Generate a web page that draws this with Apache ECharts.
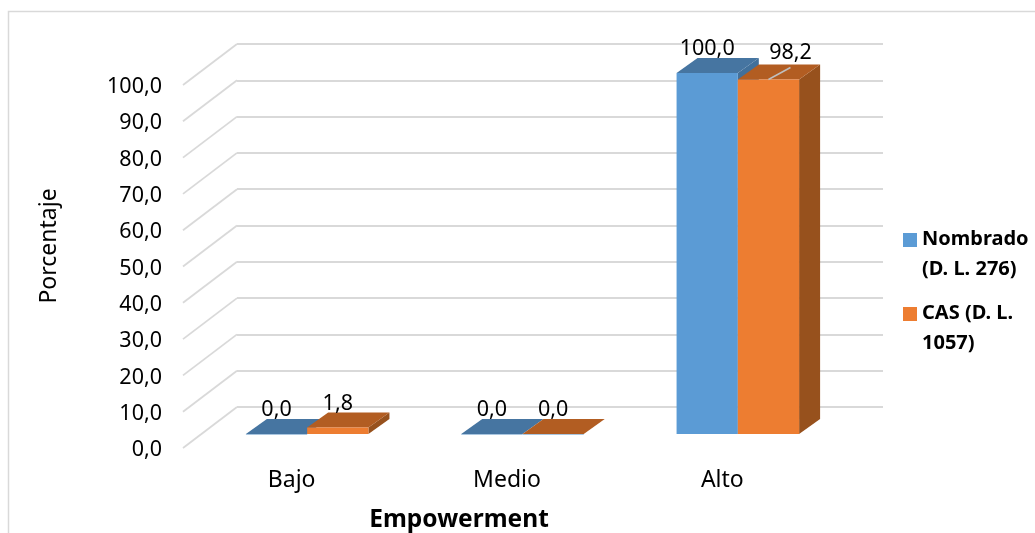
<!DOCTYPE html>
<html>
<head>
<meta charset="utf-8">
<style>html,body{margin:0;padding:0;background:#fff}#chart{width:1035px;height:533px}</style>
<script src="https://cdn.jsdelivr.net/npm/echarts@6/dist/echarts.min.js"></script>
</head>
<body>
<div id="chart"></div>
<script>
// Empowerment levels by contract type, percentages
const categories = ['Bajo', 'Medio', 'Alto'];
const nombrado = [0.0, 0.0, 100.0];
const cas = [1.8, 0.0, 98.2];
const yTicks = [0, 10, 20, 30, 40, 50, 60, 70, 80, 90, 100];
const seriesNames = ['Nombrado\n(D. L. 276)', 'CAS (D. L.\n1057)'];

const FONT = '"Noto Sans", Carlito, Calibri, sans-serif';
const TEXT = '#000000';
const GRID_LINE = '#D9D9D9';
const FACES = [
  { front: '#5B9BD5', top: '#4675A1', side: '#41709B' },
  { front: '#ED7D31', top: '#B25D22', side: '#97511D' }
];
const DEPTH_X = 21;      // receding offset of a bar's top and side faces
const DEPTH_Y = 15;
const WALL_DX = -54;     // from the back wall to the front edge of the floor
const WALL_DY = 41;
const BAR_SHARE = 0.2845; // one bar's width as a share of a category band

const fmt = v => v.toFixed(1).replace('.', ',');

// Diagonal floor/side-wall line running out from each gridline
function renderDiagonal(params, api) {
  const y = api.coord([0, api.value(0)])[1];
  const x = params.coordSys.x;
  return {
    type: 'line',
    shape: { x1: x, y1: y, x2: x + WALL_DX, y2: y + WALL_DY },
    style: { stroke: GRID_LINE, lineWidth: 1.8 }
  };
}

// One extruded bar: side, top, front, then its value label
function makeBarRenderer(seriesIdx) {
  const faces = FACES[seriesIdx];
  return function (params, api) {
    const cat = api.value(0);
    const val = api.value(1);
    const base = api.coord([cat, 0]);
    const tip = api.coord([cat, val]);
    const w = api.size([1, 0])[0] * BAR_SHARE;
    const x0 = base[0] + (seriesIdx === 0 ? -w : 0);
    const x1 = x0 + w;
    const yTop = tip[1];
    const yBase = base[1];
    const children = [
      {
        type: 'polygon',
        shape: { points: [[x1, yTop], [x1 + DEPTH_X, yTop - DEPTH_Y], [x1 + DEPTH_X, yBase - DEPTH_Y], [x1, yBase]] },
        style: { fill: faces.side }
      },
      {
        type: 'polygon',
        shape: { points: [[x0, yTop], [x0 + DEPTH_X, yTop - DEPTH_Y], [x1 + DEPTH_X, yTop - DEPTH_Y], [x1, yTop]] },
        style: { fill: faces.top }
      },
      {
        type: 'rect',
        shape: { x: x0, y: yTop, width: w, height: Math.max(yBase - yTop, 1) },
        style: { fill: val > 0 ? faces.front : '#A9C6E0' }
      }
    ];
    // The tall CAS bar's label sits off to the side with a leader line
    const pulled = seriesIdx === 1 && val > 90;
    const cx = (x0 + x1) / 2;
    if (pulled) {
      children.push({
        type: 'line',
        shape: { x1: cx, y1: yTop, x2: cx + 22, y2: yTop - 12 },
        style: { stroke: '#BFBFBF', lineWidth: 1.5 }
      });
    }
    children.push({
      type: 'text',
      z2: 10,
      style: {
        text: fmt(val),
        x: pulled ? cx + 22 : cx,
        y: pulled ? yTop - 27 : yTop - 24,
        align: 'center',
        verticalAlign: 'middle',
        font: '21.5px ' + FONT,
        fill: TEXT
      }
    });
    return { type: 'group', children };
  };
}

const plotW = 646, plotH = 363;

const option = {
  animation: false,
  backgroundColor: '#ffffff',
  textStyle: { fontFamily: FONT },
  grid: [
    // back wall carrying the horizontal gridlines
    { left: 237, top: 44, width: plotW, height: plotH },
    // front floor edge carrying the tick labels
    { left: 184, top: 87, width: plotW, height: plotH },
    // plane of the bars' front faces
    { left: 199.5, top: 73, width: plotW, height: 361 }
  ],
  xAxis: [
    { gridIndex: 0, type: 'category', data: categories, show: false },
    {
      gridIndex: 1, type: 'category', data: categories,
      axisLine: { show: false }, axisTick: { show: false },
      axisLabel: { fontSize: 23, fontFamily: FONT, color: TEXT, margin: 19 }
    },
    { gridIndex: 2, type: 'category', data: categories, show: false }
  ],
  yAxis: [
    {
      gridIndex: 0, type: 'value', min: 0, max: 100, interval: 10,
      axisLine: { show: false }, axisTick: { show: false }, axisLabel: { show: false },
      splitLine: { show: true, lineStyle: { color: GRID_LINE, width: 1.8 } }
    },
    {
      gridIndex: 1, type: 'value', min: 0, max: 100, interval: 10,
      axisLine: { show: false }, axisTick: { show: false }, splitLine: { show: false },
      axisLabel: { fontSize: 21.5, fontFamily: FONT, color: TEXT, margin: 22, formatter: v => fmt(v) }
    },
    { gridIndex: 2, type: 'value', min: 0, max: 100, interval: 10, show: false }
  ],
  legend: {
    orient: 'vertical',
    left: 898,
    top: 219,
    itemWidth: 14,
    itemHeight: 44,
    itemGap: 14,
    selectedMode: false,
    // swatch sits beside the first line of the two-line entries
    icon: 'path://M0 1H14V15H0Z M0 0L0 0Z M0 44L0 44Z',
    itemStyle: { borderWidth: 0 },
    textStyle: { fontFamily: FONT, fontSize: 20, fontWeight: 'bold', color: TEXT, lineHeight: 30 },
    data: seriesNames
  },
  graphic: [
    // chart frame: only the top and left edges fall inside the page
    {
      type: 'polyline', silent: true, z: -1,
      shape: { points: [[8.5, 533], [8.5, 11.5], [1035, 11.5]] },
      style: { fill: 'none', stroke: '#D9D9D9', lineWidth: 1.5 }
    },
    {
      type: 'text', silent: true,
      x: 49, y: 246, rotation: Math.PI / 2,
      style: { text: 'Porcentaje', font: '23px ' + FONT, fill: TEXT, align: 'center', verticalAlign: 'middle' }
    },
    {
      type: 'text', silent: true,
      x: 459, y: 520,
      style: { text: 'Empowerment', font: 'bold 24.5px ' + FONT, fill: TEXT, align: 'center', verticalAlign: 'middle' }
    }
  ],
  series: [
    {
      type: 'custom', name: 'diagonales', xAxisIndex: 0, yAxisIndex: 0,
      silent: true, clip: false, z: 1,
      renderItem: renderDiagonal,
      encode: { y: 0 },
      data: yTicks.map(v => [v])
    },
    {
      type: 'custom', name: seriesNames[0], xAxisIndex: 2, yAxisIndex: 2,
      clip: false, z: 2,
      itemStyle: { color: FACES[0].front },
      renderItem: makeBarRenderer(0),
      encode: { x: 0, y: 1 },
      data: nombrado.map((v, i) => [i, v])
    },
    {
      type: 'custom', name: seriesNames[1], xAxisIndex: 2, yAxisIndex: 2,
      clip: false, z: 3,
      itemStyle: { color: FACES[1].front },
      renderItem: makeBarRenderer(1),
      encode: { x: 0, y: 1 },
      data: cas.map((v, i) => [i, v])
    }
  ]
};

const chart = echarts.init(document.getElementById('chart'), null, { renderer: 'canvas' });
chart.setOption(option);
</script>
</body>
</html>
